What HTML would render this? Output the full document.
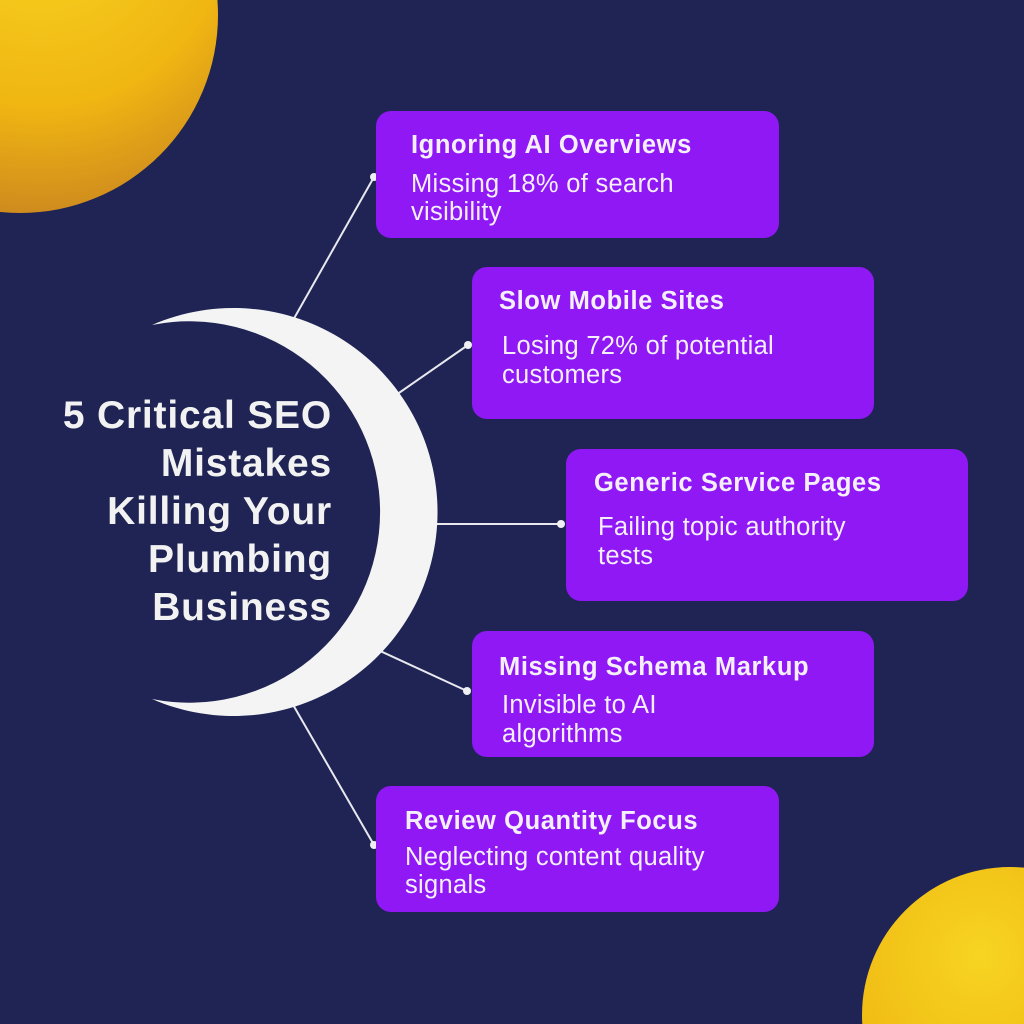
<!DOCTYPE html>
<html><head><meta charset="utf-8"><style>
html,body{margin:0;width:1024px;height:1024px;overflow:hidden;background:#1f2454;font-family:"Liberation Sans",sans-serif}
svg{display:block}
</style></head><body>
<svg width="1024" height="1024" viewBox="0 0 1024 1024" xmlns="http://www.w3.org/2000/svg">
<defs>
<radialGradient id="g1" cx="0.55" cy="0.25" r="0.8">
<stop offset="0" stop-color="#f7d422"/><stop offset="0.6" stop-color="#f0b612"/><stop offset="1" stop-color="#c98420"/>
</radialGradient>
<radialGradient id="g2" cx="0.4" cy="0.3" r="0.8">
<stop offset="0" stop-color="#f7d422"/><stop offset="0.6" stop-color="#f0bb14"/><stop offset="1" stop-color="#d38f1e"/>
</radialGradient>
</defs>
<rect width="1024" height="1024" fill="#1f2454"/>
<circle cx="20" cy="15" r="198" fill="url(#g1)"/>
<circle cx="1010" cy="1015" r="148" fill="url(#g2)"/>
<g stroke="#e8e8ee" stroke-width="2" fill="none">
<line x1="374" y1="177" x2="292" y2="322"/>
<line x1="468" y1="345" x2="396" y2="395"/>
<line x1="561" y1="524" x2="430" y2="524"/>
<line x1="467" y1="691" x2="378" y2="650"/>
<line x1="374" y1="845" x2="292" y2="703"/>
</g>
<g fill="#f0f0f4">
<circle cx="374" cy="177" r="4"/><circle cx="468" cy="345" r="4"/><circle cx="561" cy="524" r="4"/><circle cx="467" cy="691" r="4"/><circle cx="374" cy="845" r="4"/>
</g>
<path d="M152 325 A204 204 0 1 1 152 699 A190.7 190.7 0 1 0 152 325 Z" fill="#f3f4f3"/>
<g fill="#9018f5">
<rect x="376" y="111" width="403" height="127" rx="15"/>
<rect x="472" y="267" width="402" height="152" rx="15"/>
<rect x="566" y="449" width="402" height="152" rx="15"/>
<rect x="472" y="631" width="402" height="126" rx="15"/>
<rect x="376" y="786" width="403" height="126" rx="15"/>
</g>
<g fill="#f4f0fb" font-family="Liberation Sans, sans-serif">
<g font-weight="bold" font-size="25.5" letter-spacing="0.6">
<text x="411" y="153">Ignoring AI Overviews</text>
<text x="499" y="309">Slow Mobile Sites</text>
<text x="594" y="491">Generic Service Pages</text>
<text x="499" y="675">Missing Schema Markup</text>
<text x="405" y="829">Review Quantity Focus</text>
</g>
<g font-size="25.5" letter-spacing="0.3">
<text x="411" y="192">Missing 18% of search</text><text x="411" y="220">visibility</text>
<text x="502" y="354">Losing 72% of potential</text><text x="502" y="383">customers</text>
<text x="598" y="535">Failing topic authority</text><text x="598" y="564">tests</text>
<text x="502" y="713">Invisible to AI</text><text x="502" y="742">algorithms</text>
<text x="405" y="865">Neglecting content quality</text><text x="405" y="893">signals</text>
</g>
<g font-weight="bold" font-size="39" letter-spacing="0.8" text-anchor="end" fill="#f2f2f2">
<text x="332" y="428">5 Critical SEO</text>
<text x="332" y="476">Mistakes</text>
<text x="332" y="524">Killing Your</text>
<text x="332" y="572">Plumbing</text>
<text x="332" y="620">Business</text>
</g>
</g>
</svg>
</body></html>
